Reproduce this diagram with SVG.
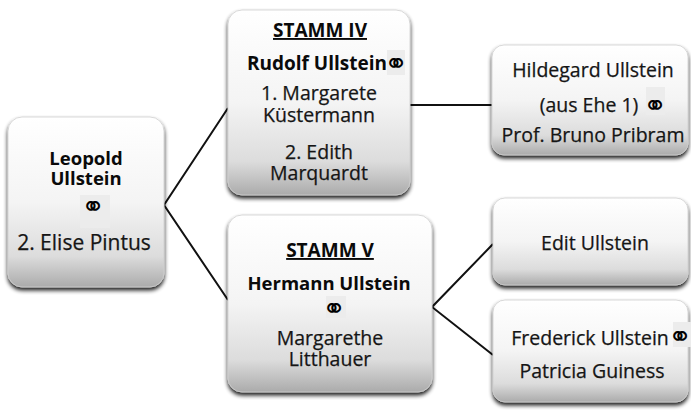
<svg xmlns="http://www.w3.org/2000/svg" width="691" height="415" viewBox="0 0 691 415">
<style>
.box{fill:url(#g);filter:url(#sh);stroke:#cfcfcf;stroke-width:0.8;}
.t{font-family:"Open Sans","Noto Sans","DejaVu Sans",sans-serif;font-size:19.5px;fill:#151515;stroke:#151515;stroke-width:0.25;text-anchor:middle;}
.b{font-weight:bold;fill:#0a0a0a;stroke:none;font-size:19px;}
.u{text-decoration:underline;}
.m{font-family:"DejaVu Sans",sans-serif;font-size:28px;font-weight:bold;fill:#000;text-anchor:middle;}
.mb{fill:#ececec;}
.c{stroke:#111;stroke-width:2;fill:none;}
</style>
<defs>
<linearGradient id="g" x1="0" y1="0" x2="0" y2="1">
<stop offset="0" stop-color="#ffffff"/>
<stop offset="0.5" stop-color="#f4f4f4"/>
<stop offset="0.82" stop-color="#dcdcdc"/>
<stop offset="1" stop-color="#ababab"/>
</linearGradient>
<filter id="sh" x="-10%" y="-10%" width="120%" height="125%">
<feGaussianBlur in="SourceAlpha" stdDeviation="2.2"/>
<feOffset dx="0" dy="3" result="o"/>
<feComponentTransfer><feFuncA type="linear" slope="0.9"/></feComponentTransfer>
<feMerge><feMergeNode/><feMergeNode in="SourceGraphic"/></feMerge>
</filter>
</defs>
<rect width="691" height="415" fill="#fff"/>
<g id="connectors">
<polyline class="c" points="228,108 164,205 228,300"/>
<line class="c" x1="410" y1="105" x2="492" y2="105"/>
<polyline class="c" points="493,244 432,307 493,355"/>
</g>
<g id="leopold">
<rect class="box" x="8" y="117" width="156" height="170" rx="14"/>
<text class="t b" x="86" y="165" style="font-size:18.5px">Leopold</text>
<text class="t b" x="86" y="185" style="font-size:18.5px">Ullstein</text>
<rect class="mb" x="80" y="195" width="30" height="33"/>
<text class="m" x="93" y="216">⚭</text>
<text class="t" x="84" y="250" style="font-size:21px">2. Elise Pintus</text>
</g>
<g id="stamm4">
<rect class="box" x="228" y="10" width="182" height="185" rx="14"/>
<text class="t b u" x="320" y="37">STAMM IV</text>
<text class="t b" x="317" y="70">Rudolf Ullstein</text>
<rect class="mb" x="387" y="50" width="18" height="25"/>
<text class="m" x="396" y="73">⚭</text>
<text class="t" x="319" y="100">1. Margarete</text>
<text class="t" x="319" y="122">Küstermann</text>
<text class="t" x="319" y="159">2. Edith</text>
<text class="t" x="319" y="180">Marquardt</text>
</g>
<g id="stamm5">
<rect class="box" x="228" y="215" width="204" height="177" rx="14"/>
<text class="t b u" x="330" y="257">STAMM V</text>
<text class="t b" x="329" y="290" style="font-size:18.5px">Hermann Ullstein</text>
<rect class="mb" x="326" y="296" width="20" height="22"/>
<text class="m" x="334" y="318">⚭</text>
<text class="t" x="330" y="345">Margarethe</text>
<text class="t" x="330" y="366">Litthauer</text>
</g>
<g id="hildegard">
<rect class="box" x="492" y="45" width="196" height="110" rx="12"/>
<text class="t" x="593" y="77">Hildegard Ullstein</text>
<text class="t" x="589" y="112">(aus Ehe 1)</text>
<rect class="mb" x="646" y="87" width="19" height="28"/>
<text class="m" x="655" y="115">⚭</text>
<text class="t" x="593" y="142">Prof. Bruno Pribram</text>
</g>
<g id="edit">
<rect class="box" x="493" y="198" width="195" height="87" rx="12"/>
<text class="t" x="595" y="250">Edit Ullstein</text>
</g>
<g id="frederick">
<rect class="box" x="493" y="300" width="195" height="102" rx="12"/>
<text class="t" x="590" y="345">Frederick Ullstein</text>
<rect class="mb" x="673" y="322" width="18" height="25"/>
<text class="m" x="680" y="346">⚭</text>
<text class="t" x="592" y="378">Patricia Guiness</text>
</g>
</svg>
